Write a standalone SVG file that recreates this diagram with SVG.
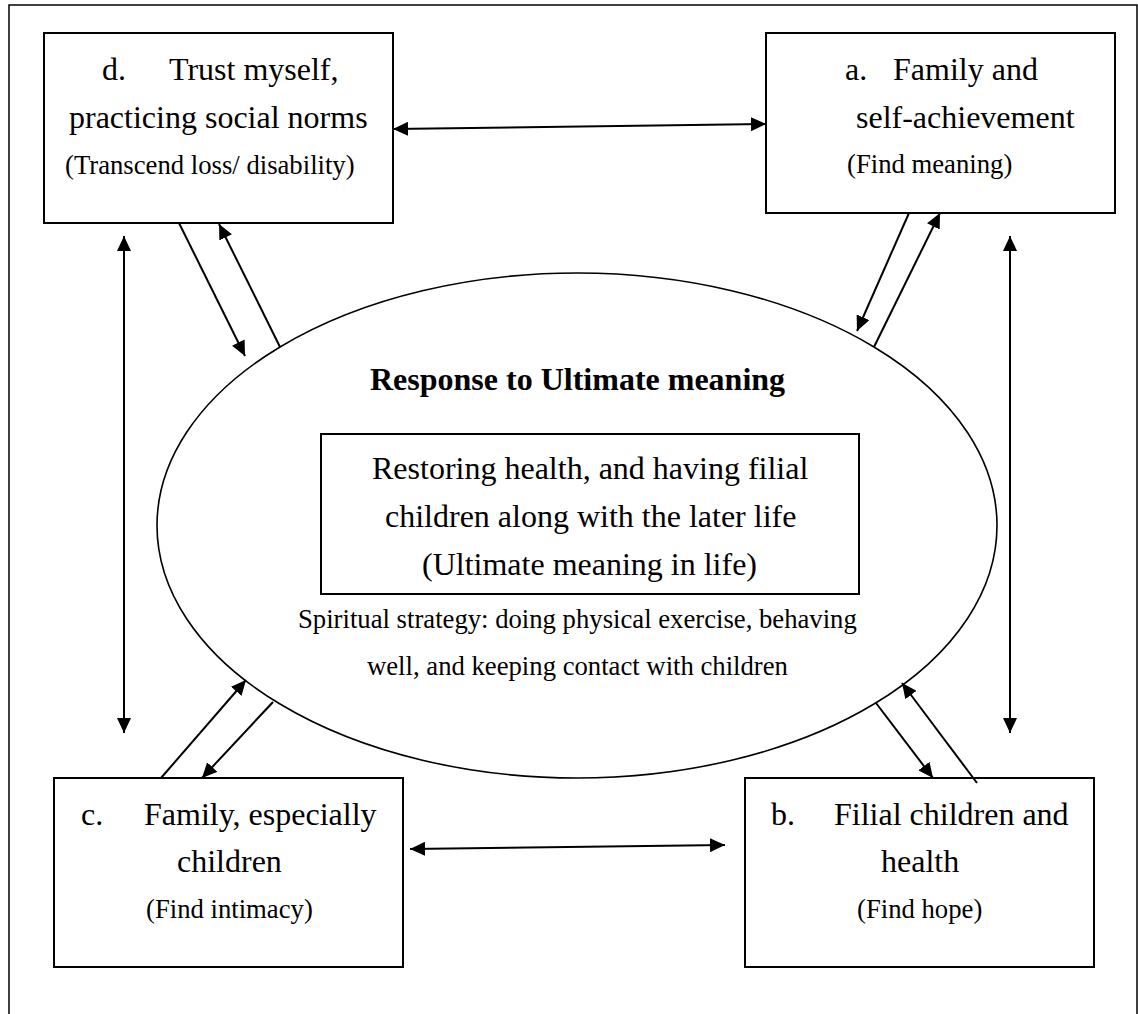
<svg xmlns="http://www.w3.org/2000/svg" width="1138" height="1014" viewBox="0 0 1138 1014">
<defs>
<style>
.box{fill:#fff;stroke:#000;stroke-width:2}
.t{font-family:"Liberation Serif","Times New Roman",serif;font-size:32px;fill:#000}
.s{font-family:"Liberation Serif","Times New Roman",serif;font-size:26.7px;fill:#000}
.b{font-family:"Liberation Serif","Times New Roman",serif;font-size:32px;font-weight:bold;fill:#000}
.c{stroke:#000;stroke-width:2;fill:none}
.one{marker-end:url(#ah)}
.two{marker-start:url(#ah);marker-end:url(#ah)}
</style>
<marker id="ah" viewBox="0 0 15 14" refX="15" refY="7" markerWidth="15" markerHeight="14" markerUnits="userSpaceOnUse" orient="auto-start-reverse">
<path d="M0,0 L15,7 L0,14 z" fill="#000"/>
</marker>
</defs>
<rect width="1138" height="1014" fill="#fff"/>
<path d="M9,1016 V5 H1137 V1016" fill="none" stroke="#000" stroke-width="1.5"/>

<g id="center">
<ellipse cx="577" cy="525.5" rx="420" ry="252.5" fill="#fff" stroke="#000" stroke-width="1.6"/>
<text class="b" x="370" y="390">Response to Ultimate meaning</text>
<rect class="box" x="321" y="434" width="538" height="160"/>
<text class="t" x="372" y="479">Restoring health, and having filial</text>
<text class="t" x="385" y="527">children along with the later life</text>
<text class="t" x="422" y="575">(Ultimate meaning in life)</text>
<text class="s" x="298" y="628">Spiritual strategy: doing physical exercise, behaving</text>
<text class="s" x="367" y="675">well, and keeping contact with children</text>
</g>

<g id="node-d">
<rect class="box" x="44" y="33" width="349" height="190"/>
<text class="t" x="102" y="80">d.</text>
<text class="t" x="169" y="80">Trust myself,</text>
<text class="t" x="69" y="128">practicing social norms</text>
<text class="s" x="65" y="174">(Transcend loss/ disability)</text>
</g>

<g id="node-a">
<rect class="box" x="766" y="33" width="349" height="180"/>
<text class="t" x="845" y="80">a.</text>
<text class="t" x="893" y="80">Family and</text>
<text class="t" x="856" y="128">self-achievement</text>
<text class="s" x="847" y="173">(Find meaning)</text>
</g>

<g id="node-c">
<rect class="box" x="54" y="778" width="349" height="189"/>
<text class="t" x="81" y="825">c.</text>
<text class="t" x="144" y="825">Family, especially</text>
<text class="t" x="177" y="872">children</text>
<text class="s" x="146" y="918">(Find intimacy)</text>
</g>

<g id="node-b">
<rect class="box" x="745" y="778" width="349" height="189"/>
<text class="t" x="771" y="825">b.</text>
<text class="t" x="834" y="825">Filial children and</text>
<text class="t" x="881" y="872">health</text>
<text class="s" x="857" y="918">(Find hope)</text>
</g>

<g id="connectors">
<line class="c two" x1="393" y1="129" x2="766" y2="124"/>
<line class="c two" x1="410" y1="849" x2="725" y2="845"/>
<line class="c two" x1="124" y1="236" x2="124" y2="733"/>
<line class="c two" x1="1010" y1="236" x2="1010" y2="733"/>
<line class="c one" x1="179" y1="223" x2="245" y2="356"/>
<line class="c one" x1="280" y1="347" x2="219" y2="224"/>
<line class="c one" x1="909" y1="213" x2="857" y2="331"/>
<line class="c one" x1="874" y1="347" x2="940" y2="213"/>
<line class="c one" x1="161" y1="778" x2="246" y2="680"/>
<line class="c one" x1="273" y1="702" x2="202" y2="778"/>
<line class="c one" x1="876" y1="703" x2="933" y2="778"/>
<line class="c one" x1="977" y1="783" x2="902" y2="683"/>
</g>
</svg>
